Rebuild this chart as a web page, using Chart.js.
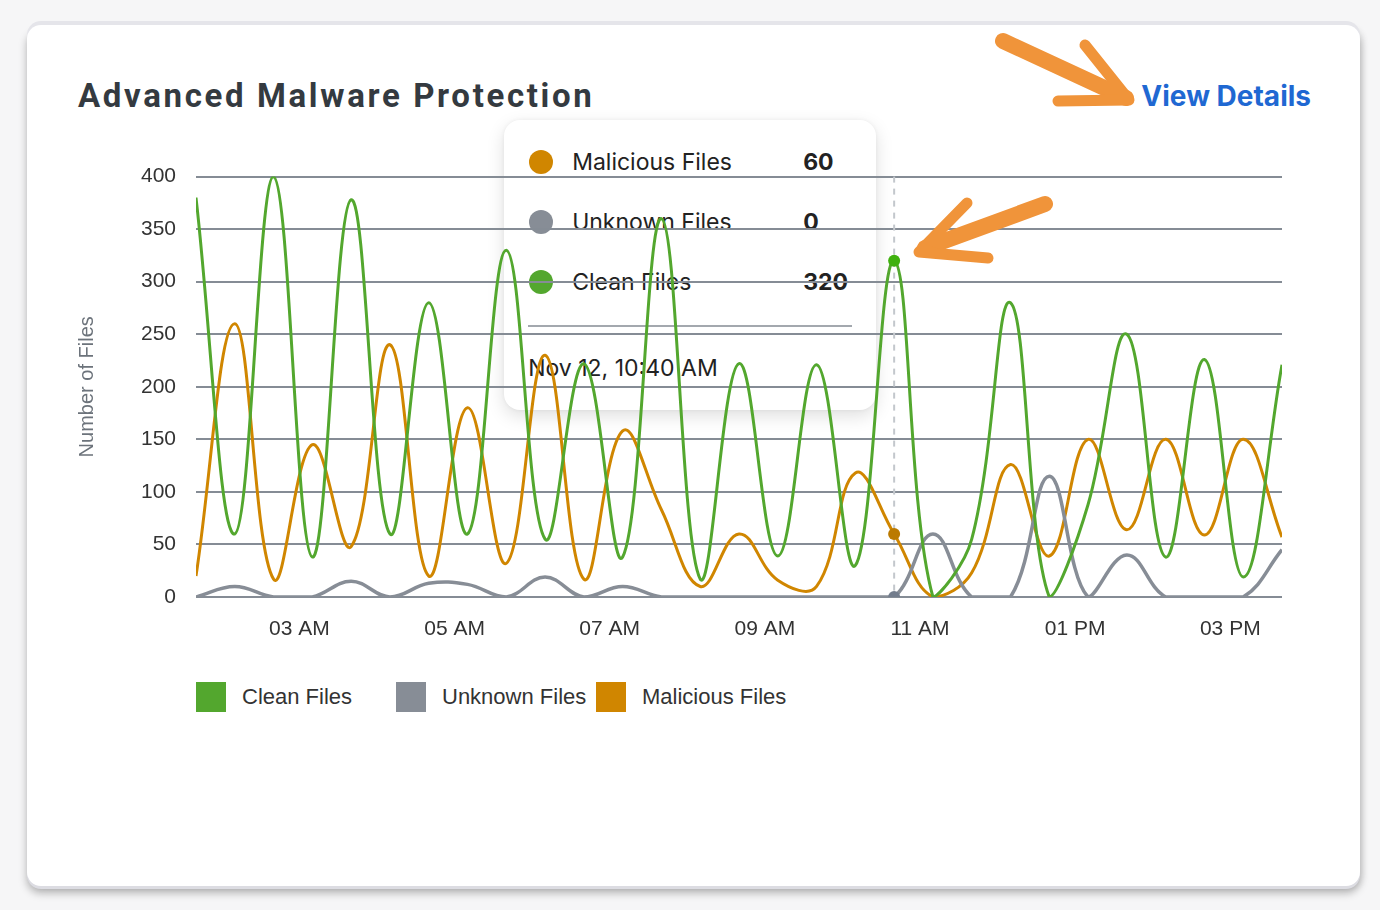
<!DOCTYPE html>
<html>
<head>
<meta charset="utf-8">
<script src="https://cdn.jsdelivr.net/npm/chart.js@4.4.1/dist/chart.umd.min.js"></script>
<style>
  body { margin: 0; width: 1380px; height: 910px; background: #f6f6f7; position: relative; overflow: hidden; font-family: 'Liberation Sans', Arial, sans-serif; }
  .card { position: absolute; left: 27px; top: 25px; width: 1333px; height: 861px; background: #fff; border-radius: 14px;
          box-shadow: 0 -4px 0 0 #e5e5ea, 0 3px 0 0 #dcdce2, 0 7px 9px rgba(0,0,0,0.28), 3px 2px 6px rgba(0,0,0,0.08); }
  .title { position: absolute; left: 78px; top: 79px; font-family: Roboto, sans-serif; font-weight: 700; font-size: 33px; line-height: 1; letter-spacing: 2.65px; color: #343a40; white-space: nowrap; }
  .details { position: absolute; right: 69px; top: 82px; font-family: Inter, sans-serif; font-weight: 700; font-size: 28px; line-height: 1; color: #1f68d2; }
  #wrap { position: absolute; left: 60px; top: 144px; width: 1240px; height: 500px; z-index: 2; }
  #tip { position: absolute; width: 372px; height: 290px; background: #fff; border-radius: 16px; z-index: 1; opacity: 0;
         box-shadow: 0 6px 18px rgba(0,0,0,0.13), 0 0 4px rgba(0,0,0,0.05); font-family: Inter, sans-serif; color: #222; }
  #tip .dot { position: absolute; left: 25px; width: 24px; height: 24px; border-radius: 50%; }
  #tip .lbl { position: absolute; left: 68px; font-size: 23px; line-height: 24px; white-space: nowrap; }
  #tip .val { position: absolute; left: 299px; font-size: 23px; line-height: 24px; font-weight: 700; }
  #tip .sep { position: absolute; left: 24px; width: 324px; top: 205px; height: 2px; background: #a3a8ae; }
  #tip .date { position: absolute; left: 24px; top: 236px; font-size: 23px; line-height: 24px; white-space: nowrap; }
  #legend { position: absolute; left: 196px; top: 682px; display: flex; z-index: 2; }
  #legend .item { width: 200px; display: flex; align-items: center; }
  #legend .box { width: 30px; height: 30px; margin-right: 16px; }
  #legend .txt { font-size: 22px; color: #333; white-space: nowrap; }
  svg.arrows { position: absolute; left: 0; top: 0; z-index: 3; }
</style>
</head>
<body>
<div class="card"></div>
<div class="title">Advanced Malware Protection</div>
<div class="details">View Details</div>
<div id="tip"></div>
<div id="wrap"><canvas id="myChart" width="1240" height="500"></canvas></div>
<div id="legend"></div>
<svg class="arrows" width="1380" height="910">
  <g stroke="#f0943a" fill="none" stroke-linecap="round" stroke-linejoin="round">
    <path d="M1003 41 L1126 98" stroke-width="16"/>
    <path d="M1085 45 L1129 100 L1058 101" stroke-width="11"/>
    <path d="M1045 204 L925 248" stroke-width="16"/>
    <path d="M967 203 L919 252 L988 258" stroke-width="11"/>
  </g>
</svg>
<script>
// sample times (every 30 min) and counts per series
var timeLabels = ['01:40', '02:10', '02:40', '03:10', '03:40', '04:10', '04:40', '05:10', '05:40', '06:10',
                  '06:40', '07:10', '07:40', '08:10', '08:40', '09:10', '09:40', '10:10', '10:40', '11:10',
                  '11:40', '12:10', '12:40', '13:10', '13:40', '14:10', '14:40', '15:10', '15:40'];
var cleanFiles     = [380, 60, 400, 38, 378, 60, 280, 60, 330, 55, 222, 38, 360, 17, 222, 39, 221, 30, 320, 0, 55, 280, 0, 88, 250, 38, 226, 19, 221];
var unknownFiles   = [0, 10, 0, 0, 15, 0, 13, 12, 0, 19, 0, 10, 0, 0, 0, 0, 0, 0, 0, 60, 0, 0, 115, 0, 40, 0, 0, 0, 45];
var maliciousFiles = [20, 260, 17, 145, 48, 240, 20, 180, 32, 230, 17, 158, 83, 10, 60, 16, 10, 118, 60, 0, 23, 126, 39, 150, 64, 150, 59, 150, 57];
var hourTicks = ['03:00', '05:00', '07:00', '09:00', '11:00', '13:00', '15:00'];
var dayLabel = 'Nov 12';
var hoverIndex = 18;

var GREEN = '#53a72e', GRAY = '#878d96', ORANGE = '#d08600';

function toMin(t) { var p = t.split(':'); return +p[0] * 60 + +p[1]; }
function pad2(n) { return (n < 10 ? '0' : '') + n; }
function hourLabel(m) { var h = Math.floor(m / 60); return pad2(h % 12 === 0 ? 12 : h % 12) + (h < 12 ? ' AM' : ' PM'); }
function timeLabel(m) { var h = Math.floor(m / 60); return (h % 12 === 0 ? 12 : h % 12) + ':' + pad2(m % 60) + (h < 12 ? ' AM' : ' PM'); }
function points(arr) { return arr.map(function (v, i) { return { x: toMin(timeLabels[i]), y: v }; }); }

Chart.defaults.font.family = "'Liberation Sans', Arial, sans-serif";

function renderTooltip(context) {
  var tooltip = context.tooltip, chart = context.chart;
  var el = document.getElementById('tip');
  if (tooltip.opacity === 0 || !tooltip.dataPoints || !tooltip.dataPoints.length) { el.style.opacity = 0; return; }
  var html = '';
  tooltip.dataPoints.forEach(function (dp, k) {
    var c = 42 + k * 60;
    html += '<div class="dot" style="top:' + (c - 12) + 'px;background:' + dp.dataset.borderColor + '"></div>' +
            '<div class="lbl" style="top:' + (c - 12) + 'px">' + dp.dataset.label + '</div>' +
            '<div class="val" style="top:' + (c - 12) + 'px">' + dp.parsed.y + '</div>';
  });
  html += '<div class="sep"></div><div class="date">' + dayLabel + ', ' + timeLabel(tooltip.dataPoints[0].parsed.x) + '</div>';
  el.innerHTML = html;
  var wrap = document.getElementById('wrap');
  el.style.left = (wrap.offsetLeft + tooltip.caretX - 18 - 372) + 'px';
  el.style.top = (wrap.offsetTop + chart.chartArea.top - 57) + 'px';
  el.style.opacity = 1;
}

var hoverLine = {
  id: 'hoverLine',
  beforeDatasetsDraw: function (chart) {
    var act = chart.getActiveElements();
    if (!act.length) return;
    var x = act[0].element.x, a = chart.chartArea, c = chart.ctx;
    c.save();
    c.strokeStyle = '#c3c7cc';
    c.lineWidth = 2;
    c.setLineDash([6, 6]);
    c.beginPath();
    c.moveTo(x, a.top);
    c.lineTo(x, a.bottom);
    c.stroke();
    c.restore();
  }
};

var ctx = document.getElementById('myChart').getContext('2d');
var chart = new Chart(ctx, {
  type: 'line',
  data: {
    datasets: [
      { label: 'Clean Files', data: points(cleanFiles), borderColor: GREEN, backgroundColor: GREEN, borderWidth: 3 },
      { label: 'Unknown Files', data: points(unknownFiles), borderColor: GRAY, backgroundColor: GRAY, borderWidth: 3.5 },
      { label: 'Malicious Files', data: points(maliciousFiles), borderColor: ORANGE, backgroundColor: ORANGE, borderWidth: 3 }
    ]
  },
  options: {
    responsive: false,
    devicePixelRatio: 1,
    animation: false,
    layout: { padding: { top: 21, right: 18, left: 0, bottom: 0 } },
    interaction: { mode: 'index', intersect: false },
    elements: {
      point: { radius: 0, hoverRadius: 6, hoverBorderWidth: 0 },
      line: { tension: 0.4 }
    },
    plugins: {
      legend: { display: false },
      tooltip: {
        enabled: false,
        external: renderTooltip,
        itemSort: function (a, b) { return b.datasetIndex - a.datasetIndex; }
      }
    },
    scales: {
      x: {
        type: 'linear',
        min: toMin(timeLabels[0]),
        max: toMin(timeLabels[timeLabels.length - 1]),
        grid: { display: false },
        border: { display: false },
        afterBuildTicks: function (s) { s.ticks = hourTicks.map(function (t) { return { value: toMin(t) }; }); },
        afterFit: function (s) { s.height = 47; },
        ticks: { padding: 12, color: '#333', font: { size: 21 }, maxRotation: 0, autoSkip: false, callback: function (v) { return hourLabel(v); } }
      },
      y: {
        min: 0,
        max: 400,
        afterFit: function (s) { s.width = 136; },
        grid: { color: '#858c95', lineWidth: 2, drawTicks: false },
        border: { display: false },
        ticks: { stepSize: 50, padding: 20, color: '#333', font: { size: 21 } },
        title: { display: true, text: 'Number of Files', color: '#6c737b', font: { size: 20 }, padding: { top: 15, bottom: 0 } }
      }
    }
  },
  plugins: [hoverLine]
});

// legend built from datasets
var legend = document.getElementById('legend');
chart.data.datasets.forEach(function (ds) {
  var item = document.createElement('div');
  item.className = 'item';
  item.innerHTML = '<div class="box" style="background:' + ds.borderColor + '"></div><div class="txt">' + ds.label + '</div>';
  legend.appendChild(item);
});

// show the hovered state at 10:40 AM
var active = chart.data.datasets.map(function (ds, i) { return { datasetIndex: i, index: hoverIndex }; });
var el0 = chart.getDatasetMeta(0).data[hoverIndex];
chart.setActiveElements(active);
chart.tooltip.setActiveElements(active, { x: el0.x, y: el0.y });
chart.update();
</script>
</body>
</html>
